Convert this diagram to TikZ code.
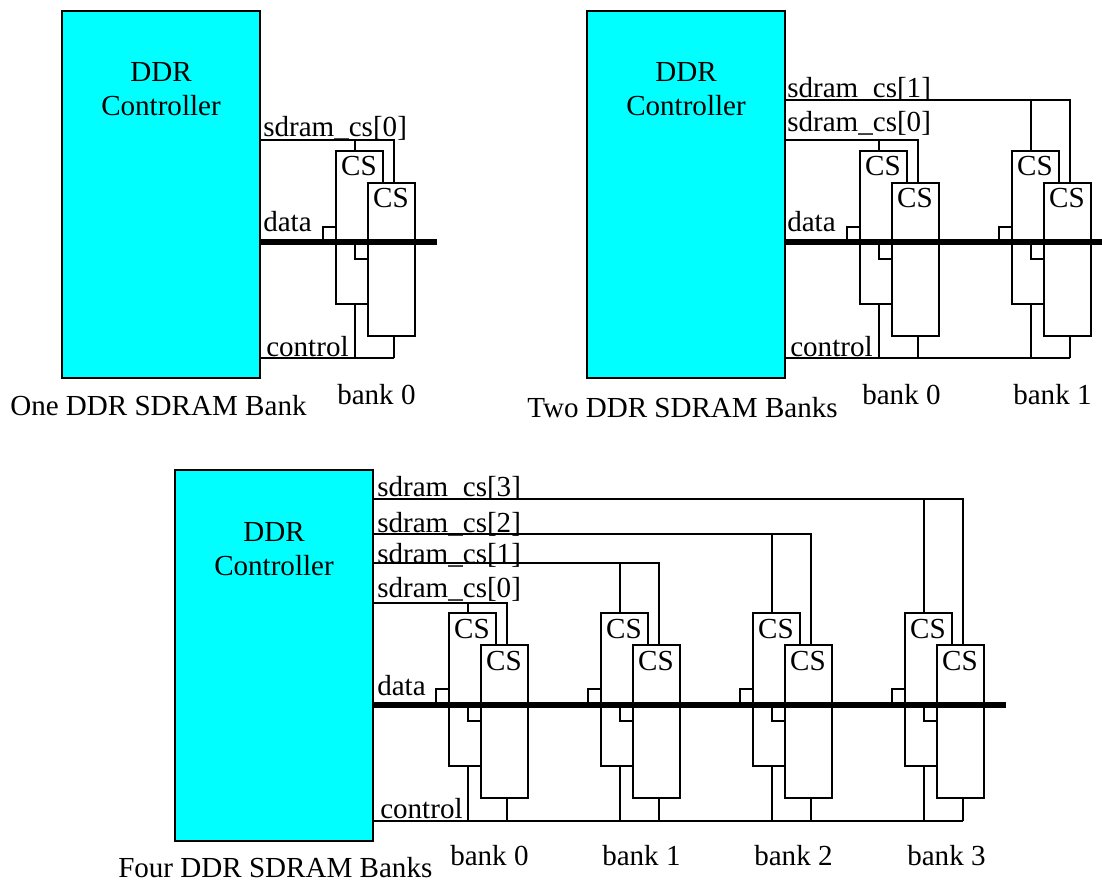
\documentclass[tikz,border=0pt]{standalone}
\usepackage{fontspec}
\setmainfont{Liberation Serif}
\definecolor{ctrlcyan}{RGB}{0,255,255}
\tikzset{
  x=0.75pt,y=-0.75pt,
  wire/.style={draw=black,line width=1pt},
  busline/.style={draw=black,line width=4.2pt},
  ctrlbox/.style={draw=black,line width=1pt,fill=ctrlcyan,anchor=north west,inner sep=0pt,outer sep=0pt},
  chip/.style={draw=black,line width=1pt,fill=white,anchor=north west,inner sep=0pt,outer sep=0pt,minimum width=35.25pt,minimum height=114.75pt},
  lab/.style={anchor=base west,inner sep=0pt,font=\fontsize{21.8pt}{24pt}\selectfont},
  ctr/.style={anchor=base,inner sep=0pt,font=\fontsize{21.8pt}{24pt}\selectfont},
}
% #1 controller node, #2 bank id, #3 x, #4 y, #5 cs line y, #6 control line y, #7 bus y
\newcommand{\drambank}[7]{
  \node[chip] (#2back) at (#3,#4) {};
  \node[chip] (#2front) at (#3+32,#4+32) {};
  \node[ctr] (#2csa) at (#3+23,#4+25) {CS};
  \node[ctr] (#2csb) at (#3+55,#4+25+32) {CS};
  \coordinate (#2dropa) at (#3+19,#5);
  \coordinate (#2dropb) at (#3+58,#5);
  \coordinate (#2ctla) at (#3+19,#6);
  \coordinate (#2ctlb) at (#3+58,#6);
  \coordinate (#2stuba) at (#3-13,#7);
  \coordinate (#2stubb) at (#3+19,#7);
  \coordinate (#2stubatop) at (#3-13,#4+76);
  \coordinate (#2stubbtop) at (#3+19,#4+108);
  \draw[wire] (#1.east |- #2dropb) -- (#2dropb) -- (#2dropb |- #2front.north);
  \draw[wire] (#2dropa) -- (#2dropa |- #2back.north);
  \draw[wire] (#2ctla |- #2back.south) -- (#2ctla);
  \draw[wire] (#2ctlb |- #2front.south) -- (#2ctlb);
  \draw[wire] (#2stuba) -- (#2stubatop) -- (#2stubatop -| #2back.west);
  \draw[wire] (#2stubb) -- (#2stubbtop) -- (#2stubbtop -| #2front.west);
}
\begin{document}
\begin{tikzpicture}
\useasboundingbox (0,0) rectangle (1102,880);
% Panel 1
\node[ctrlbox,minimum width=148.5pt,minimum height=275.25pt] (ca) at (62,11) {};
\node[ctr] (cat1) at (161,82) {DDR};
\node[ctr] (cat2) at (161,116) {Controller};
\drambank{ca}{aa}{336}{151}{140}{358}{242}
\coordinate (abusend) at (437,242);
\draw[busline] (ca.east |- abusend) -- (abusend);
\draw[wire] (ca.east |- aactlb) -- (aactlb);
\node[lab] (al0) at (263,137) {sdram\_cs[0]};
\node[lab] (ald) at (263,232) {data};
\node[lab] (alc) at (266,356) {control};
\node[lab] (alb) at (337,404) {bank 0};
\node[lab] (alt) at (10,415) {One DDR SDRAM Bank};
% Panel 2
\node[ctrlbox,minimum width=148.5pt,minimum height=275.25pt] (cb) at (587,11) {};
\node[ctr] (cbt1) at (686,82) {DDR};
\node[ctr] (cbt2) at (686,116) {Controller};
\drambank{cb}{ba}{860}{151}{140}{358}{242}
\drambank{cb}{bb}{1012}{151}{100}{358}{242}
\coordinate (bbusend) at (1102,242);
\draw[busline] (cb.east |- bbusend) -- (bbusend);
\draw[wire] (cb.east |- bbctlb) -- (bbctlb);
\node[lab] (bl1) at (787,98) {sdram\_cs[1]};
\node[lab] (bl0) at (787,132) {sdram\_cs[0]};
\node[lab] (bld) at (787,232) {data};
\node[lab] (blc) at (790,356) {control};
\node[lab] (blb0) at (862,404) {bank 0};
\node[lab] (blb1) at (1013,404) {bank 1};
\node[lab] (blt) at (527,417) {Two DDR SDRAM Banks};
% Panel 3
\node[ctrlbox,minimum width=148.5pt,minimum height=278.25pt] (cc) at (175,470) {};
\node[ctr] (cct1) at (274,541) {DDR};
\node[ctr] (cct2) at (274,575) {Controller};
\drambank{cc}{ca}{449}{613}{603}{821}{705}
\drambank{cc}{cb}{601}{613}{563}{821}{705}
\drambank{cc}{cc}{753}{613}{534}{821}{705}
\drambank{cc}{cd}{905}{613}{499}{821}{705}
\coordinate (cbusend) at (1006,705);
\draw[busline] (cc.east |- cbusend) -- (cbusend);
\draw[wire] (cc.east |- cdctlb) -- (cdctlb);
\node[lab] (cl3) at (377,496) {sdram\_cs[3]};
\node[lab] (cl2) at (377,532) {sdram\_cs[2]};
\node[lab] (cl1) at (377,563) {sdram\_cs[1]};
\node[lab] (cl0) at (377,597) {sdram\_cs[0]};
\node[lab] (cld) at (377,695) {data};
\node[lab] (clc) at (380,818) {control};
\node[lab] (clb0) at (450,865) {bank 0};
\node[lab] (clb1) at (602,865) {bank 1};
\node[lab] (clb2) at (754,865) {bank 2};
\node[lab] (clb3) at (907,865) {bank 3};
\node[lab] (clt) at (118,877) {Four DDR SDRAM Banks};
\end{tikzpicture}
\end{document}
